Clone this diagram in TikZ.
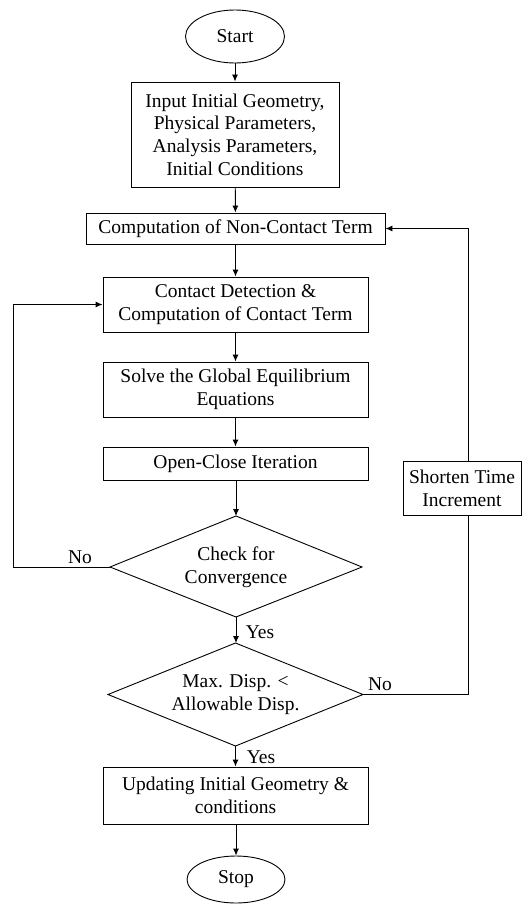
\documentclass[tikz,border=0pt]{standalone}
\usepackage{fontspec}
\setmainfont{Liberation Serif}
\usetikzlibrary{shapes.geometric,arrows.meta}
\begin{document}
\begin{tikzpicture}[x=1pt,y=-1pt,
  every node/.style={font=\fontsize{19.5}{22.7}\selectfont, inner sep=0pt, align=center},
  box/.style={draw, line width=0.9pt, rectangle},
  term/.style={draw, line width=0.9pt, ellipse},
  decline/.style={draw, line width=0.9pt, line join=miter},
  conn/.style={line width=0.9pt},
  arr/.style={conn, -{Latex[length=7pt,width=6pt]}},
  lbl/.style={}]
\useasboundingbox (0,0) rectangle (522,904);
\node[term, minimum width=99pt, minimum height=53pt] (start) at (235,36.5) {Start};
\node[box, minimum width=208pt, minimum height=105pt] (input) at (235,134.5) {Input Initial Geometry,\\Physical Parameters,\\Analysis Parameters,\\Initial Conditions};
\node[box, minimum width=299pt, minimum height=31pt] (noncontact) at (235.5,228.5) {Computation of Non-Contact Term};
\node[box, minimum width=265pt, minimum height=55pt] (contact) at (235.5,304.5) {Contact Detection \&\\Computation of Contact Term};
\node[box, minimum width=265pt, minimum height=55pt] (solve) at (235.5,389.5) {Solve the Global Equilibrium\\Equations};
\node[box, minimum width=265pt, minimum height=33pt] (open) at (235.5,463.5) {Open-Close Iteration};
% decision 1
\node (check) at (236,567) {Check for\\Convergence};
\coordinate (checkN) at (236,516);
\coordinate (checkS) at (236,617);
\coordinate (checkW) at (110,567);
\coordinate (checkE) at (362,567);
\draw[decline] (checkN) -- (checkE) -- (checkS) -- (checkW) -- cycle;
% decision 2
\node (max) at (235.5,694.5) {Max. Disp. <\\Allowable Disp.};
\coordinate (maxN) at (235.5,643);
\coordinate (maxS) at (235.5,746);
\coordinate (maxW) at (108,694.5);
\coordinate (maxE) at (363,694.5);
\draw[decline] (maxN) -- (maxE) -- (maxS) -- (maxW) -- cycle;
\node[box, minimum width=265pt, minimum height=57pt] (update) at (235.5,795.5) {Updating Initial Geometry \&\\conditions};
\node[term, minimum width=98pt, minimum height=47pt] (stop) at (236,879.5) {Stop};
\node[box, minimum width=118pt, minimum height=54pt] (shorten) at (462,488) {Shorten Time\\Increment};
\coordinate (lx) at (13,567);
\coordinate (rx) at (468,694.5);
\draw[arr] (start) -- (input);
\draw[arr] (input) -- (noncontact);
\draw[arr] (noncontact.south -| contact.north) -- (contact.north);
\draw[arr] (contact) -- (solve);
\draw[arr] (solve) -- (open);
\draw[arr] (open.south -| checkN) -- (checkN);
\draw[arr] (checkS) -- (maxN -| checkS);
\draw[arr] (maxS) -- (update.north -| maxS);
\draw[arr] (update.south -| stop.north) -- (stop.north);
\draw[arr] (checkW) -- (lx) |- (contact.west);
\draw[conn] (maxE) -- (rx) -- (rx |- shorten.south);
\draw[arr] (rx |- shorten.north) |- (noncontact.east);
\node[lbl] (no1) at (80,557) {No};
\node[lbl] (no2) at (380,684) {No};
\node[lbl] (yes1) at (260,632) {Yes};
\node[lbl] (yes2) at (261,757) {Yes};
\end{tikzpicture}
\end{document}
